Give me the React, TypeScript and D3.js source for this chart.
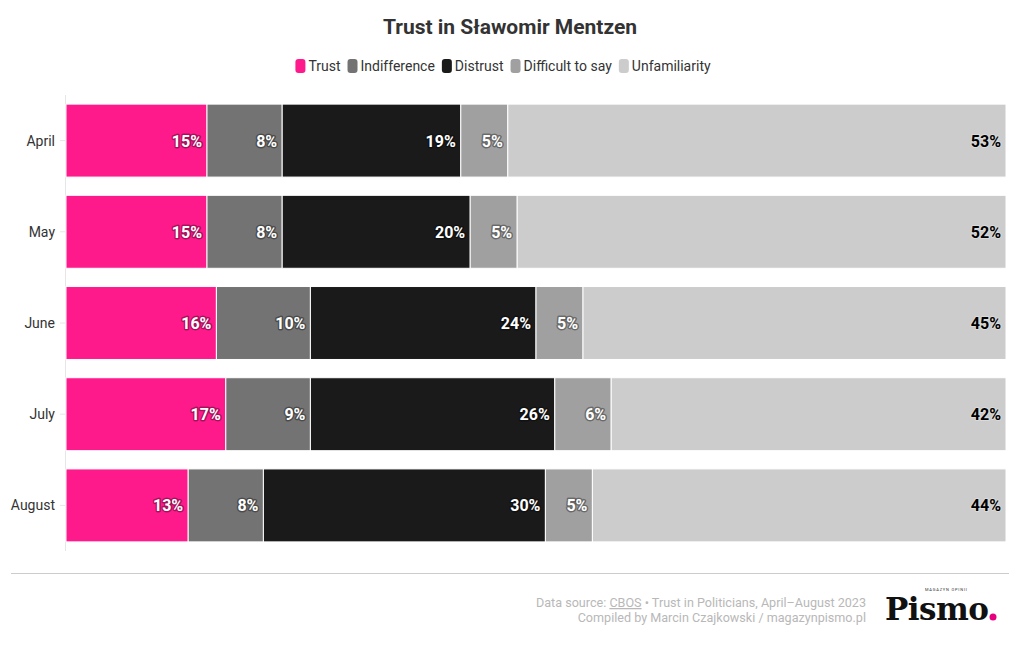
import React from "react";
import * as d3 from "d3";

const months = ["April", "May", "June", "July", "August"];
const seriesNames = ["Trust", "Indifference", "Distrust", "Difficult to say", "Unfamiliarity"];
const seriesColors = ["#ff1a8c", "#737373", "#1a1a1a", "#a0a0a0", "#cccccc"];
const trust = [15, 15, 16, 17, 13];
const indifference = [8, 8, 10, 9, 8];
const distrust = [19, 20, 24, 26, 30];
const difficult = [5, 5, 5, 6, 5];
const unfamiliarity = [53, 52, 45, 42, 44];

const seriesValues = [trust, indifference, distrust, difficult, unfamiliarity];

const W = 1020;
const H = 650;
const M = { left: 66, right: 1006, top: 95, bottom: 551 };
const FONT = "Roboto, 'Noto Sans', sans-serif";

function measure(t: string, size: number): number {
  try {
    const c = document.createElement("canvas").getContext("2d");
    if (c) {
      c.font = `${size}px Roboto`;
      return c.measureText(t).width;
    }
  } catch (e) {}
  return t.length * size * 0.5;
}

export default function App() {
  const x = d3.scaleLinear().domain([0, 100]).range([M.left, M.right]);
  const y = d3.scaleBand().domain(months).range([M.top, M.bottom]).paddingInner(0.2).paddingOuter(0.1);

  const rows = months.map((m, i) => {
    const obj: any = { month: m };
    seriesNames.forEach((s, j) => (obj[s] = seriesValues[j][i]));
    return obj;
  });
  const stacked = d3.stack().keys(seriesNames)(rows);

  const gap = 7;
  const widths = seriesNames.map((s) => 13 + measure(s, 14));
  const total = d3.sum(widths) + gap * (widths.length - 1);
  let lx = 503 - total / 2;
  const legendPos = widths.map((w) => {
    const p = lx;
    lx += w + gap;
    return p;
  });

  return (
    <svg width={W} height={H} style={{ position: "absolute", left: 0, top: 0, background: "#fff" }} fontFamily={FONT}>
      <rect width={W} height={H} fill="#fff" />
      <text x={W / 2} y={34} textAnchor="middle" fontSize={21} fontWeight={700} fill="#333">
        Trust in Sławomir Mentzen
      </text>
      {seriesNames.map((name, i) => (
        <g key={name} transform={`translate(${legendPos[i]},0)`}>
          <rect x={0} y={59} width={10} height={14} rx={3} fill={seriesColors[i]} />
          <text x={13} y={71} fontSize={14} fill="#333">
            {name}
          </text>
        </g>
      ))}
      <line x1={M.left - 0.5} x2={M.left - 0.5} y1={M.top} y2={M.bottom} stroke="#e6e6e6" />
      {months.map((m) => (
        <g key={m}>
          <line x1={M.left - 6} x2={M.left - 1} y1={y(m)! + y.bandwidth() / 2} y2={y(m)! + y.bandwidth() / 2} stroke="#e6e6e6" />
          <text x={M.left - 11} y={y(m)! + y.bandwidth() / 2 + 5} textAnchor="end" fontSize={14} fill="#333">
            {m}
          </text>
        </g>
      ))}
      {stacked.map((layer, j) => (
        <g key={layer.key}>
          {layer.map((d, i) => (
            <rect
              key={i}
              x={x(d[0])}
              y={y(months[i])!}
              width={x(d[1]) - x(d[0])}
              height={y.bandwidth()}
              fill={seriesColors[j]}
              stroke="#fff"
              strokeWidth={1}
            />
          ))}
        </g>
      ))}
      {stacked.map((layer, j) => (
        <g key={layer.key + "l"}>
          {layer.map((d, i) => {
            const dark = j === 4;
            const tx = x(d[1]) - 5;
            const ty = y(months[i])! + y.bandwidth() / 2 + 6;
            const label = `${seriesValues[j][i]}%`;
            return (
              <g key={i}>
                <text
                  x={tx}
                  y={ty}
                  textAnchor="end"
                  fontSize={16}
                  fontWeight={700}
                  fill="none"
                  stroke={dark ? "#ffffff" : "#000000"}
                  strokeWidth={dark ? 2 : 3}
                  strokeOpacity={dark ? 0.3 : 0.35}
                  strokeLinejoin="round"
                >
                  {label}
                </text>
                <text x={tx} y={ty} textAnchor="end" fontSize={16} fontWeight={700} fill={dark ? "#000" : "#fff"}>
                  {label}
                </text>
              </g>
            );
          })}
        </g>
      ))}
      <line x1={11} x2={1009} y1={573.5} y2={573.5} stroke="#cccccc" />
      <text x={866} y={607} textAnchor="end" fontSize={12.6} fill="#b8b8b8">
        Data source: <tspan textDecoration="underline">CBOS</tspan> • Trust in Politicians, April–August 2023
      </text>
      <text x={866} y={622} textAnchor="end" fontSize={12.6} fill="#b8b8b8">
        Compiled by Marcin Czajkowski / magazynpismo.pl
      </text>
      <g>
        <text x={885} y={620} fontFamily="'DejaVu Serif', 'Liberation Serif', serif" fontSize={31} fontWeight={700} fill="#111" letterSpacing={-0.5}>
          Pismo
        </text>
        <circle cx={993} cy={617} r={3.5} fill="#e6007e" />
        <text x={925} y={591} fontSize={4} fill="#333" letterSpacing={0.8}>
          MAGAZYN OPINII
        </text>
      </g>
    </svg>
  );
}
